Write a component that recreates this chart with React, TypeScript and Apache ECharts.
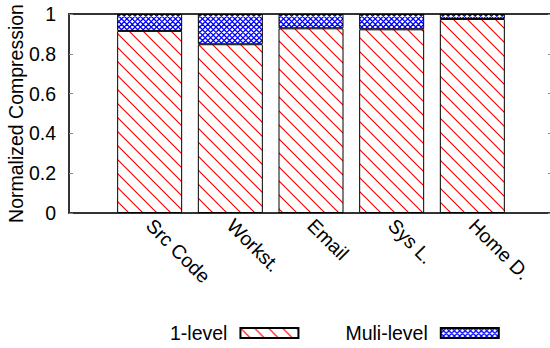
import { useEffect, useRef } from 'react';
import * as echarts from 'echarts';

const categories = ['Src Code', 'Workst.', 'Email', 'Sys L.', 'Home D.'];
const oneLevel = [0.915, 0.848, 0.928, 0.923, 0.975];
const multiLevel = [0.085, 0.152, 0.072, 0.077, 0.025];
const seriesNames = ['1-level', 'Muli-level'];
const yTicks = [0, 0.2, 0.4, 0.6, 0.8, 1];
const yName = 'Normalized Compression';

const FONT = '"Liberation Sans", Arial, Helvetica, sans-serif';
const FS = 19.5;

function makeHatch(): HTMLCanvasElement {
  const p = 14;
  const c = document.createElement('canvas');
  c.width = p;
  c.height = p;
  const g = c.getContext('2d')!;
  g.fillStyle = '#ffffff';
  g.fillRect(0, 0, p, p);
  g.strokeStyle = '#ff0000';
  g.lineWidth = 1.2;
  g.beginPath();
  for (const k of [-1, 0, 1]) {
    g.moveTo(-2, -2 + k * p);
    g.lineTo(p + 2, p + 2 + k * p);
  }
  g.stroke();
  return c;
}

function makeCross(): HTMLCanvasElement {
  const period = 5.4;
  const n = 5;
  const size = Math.round(period * n);
  const c = document.createElement('canvas');
  c.width = size;
  c.height = size;
  const g = c.getContext('2d')!;
  g.fillStyle = '#ffffff';
  g.fillRect(0, 0, size, size);
  g.strokeStyle = '#0000ff';
  g.lineWidth = 1.3;
  g.beginPath();
  for (let k = -n - 1; k <= n + 1; k++) {
    const o = k * period;
    g.moveTo(-2, -2 + o);
    g.lineTo(size + 2, size + 2 + o);
  }
  for (let k = -1; k <= 2 * n + 1; k++) {
    const o = k * period;
    g.moveTo(-2, o + 2);
    g.lineTo(size + 2, o - size - 2);
  }
  g.stroke();
  return c;
}

export default function App() {
  const ref = useRef<HTMLDivElement>(null);
  useEffect(() => {
    if (!ref.current) return;
    const chart = echarts.init(ref.current, null, { renderer: 'svg' });
    const hatch = makeHatch();
    const cross = makeCross();
    const axisData = ['', ...categories, ''];
    const pad = (arr: number[]) => ['-', ...arr, '-'];
    const axisLineStyle = { color: '#333333', width: 2 };
    chart.setOption({
      animation: false,
      backgroundColor: '#ffffff',
      textStyle: { fontFamily: FONT },
      grid: { left: 69, top: 14, right: -3, bottom: 135, containLabel: false, outerBoundsMode: 'none' },
      legend: {
        data: seriesNames,
        left: 170,
        top: 323,
        padding: 0,
        align: 'right',
        icon: 'rect',
        itemWidth: 58,
        itemHeight: 10,
        itemGap: 46,
        selectedMode: false,
        textStyle: { fontSize: FS, color: '#000', fontFamily: FONT, padding: [0, 8, 0, 0] },
      },
      xAxis: [
        {
          type: 'category',
          position: 'bottom',
          data: axisData,
          boundaryGap: false,
          axisLine: { show: true, onZero: false, lineStyle: axisLineStyle },
          axisTick: { show: false },
          splitLine: { show: false },
          axisLabel: {
            interval: 0,
            rotate: -45,
            margin: 9,
            fontSize: FS,
            color: '#000',
            fontFamily: FONT,
          },
        },
        {
          type: 'category',
          position: 'top',
          data: axisData,
          boundaryGap: false,
          axisLine: { show: true, onZero: false, lineStyle: axisLineStyle },
          axisTick: { show: false },
          axisLabel: { show: false },
          splitLine: { show: false },
        },
      ],
      yAxis: [
        {
          type: 'value',
          position: 'left',
          min: yTicks[0],
          max: yTicks[yTicks.length - 1],
          interval: yTicks[1] - yTicks[0],
          name: yName,
          nameLocation: 'middle',
          nameGap: 43,
          nameMoveOverlap: false,
          nameTextStyle: { fontSize: 19.5, color: '#000', fontFamily: FONT },
          axisLine: { show: true, onZero: false, lineStyle: axisLineStyle },
          axisTick: { show: true, inside: true, length: 4, lineStyle: { color: '#888888', width: 1 } },
          splitLine: { show: false },
          axisLabel: { margin: 13, fontSize: FS, color: '#000', fontFamily: FONT },
        },
        {
          type: 'value',
          position: 'right',
          min: yTicks[0],
          max: yTicks[yTicks.length - 1],
          interval: yTicks[1] - yTicks[0],
          axisLine: { show: true, onZero: false, lineStyle: axisLineStyle },
          axisTick: { show: true, inside: true, length: 5, lineStyle: { color: '#888888', width: 1 } },
          splitLine: { show: false },
          axisLabel: { show: false },
        },
      ],
      series: [
        {
          name: seriesNames[0],
          type: 'bar',
          stack: 'total',
          barWidth: 65,
          data: pad(oneLevel),
          itemStyle: {
            color: { image: hatch, repeat: 'repeat', imageWidth: 14, imageHeight: 14 },
            borderColor: '#000',
            borderWidth: 1,
          },
        },
        {
          name: seriesNames[1],
          type: 'bar',
          stack: 'total',
          barWidth: 65,
          data: pad(multiLevel),
          itemStyle: {
            color: { image: cross, repeat: 'repeat', imageWidth: 27, imageHeight: 27 },
            borderColor: '#000',
            borderWidth: 1,
          },
        },
      ],
    });
    return () => chart.dispose();
  }, []);
  return (
    <div
      ref={ref}
      style={{ position: 'absolute', left: 0, top: 0, width: 550, height: 348, background: '#fff' }}
    />
  );
}
